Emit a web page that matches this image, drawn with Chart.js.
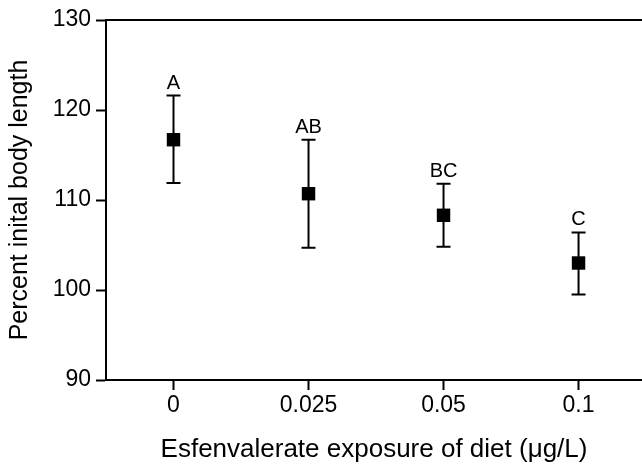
<!DOCTYPE html>
<html>
<head>
<meta charset="utf-8">
<script src="https://cdn.jsdelivr.net/npm/chart.js@4/dist/chart.umd.min.js"></script>
<style>
  html, body { margin: 0; padding: 0; background: #fff; overflow: hidden; }
  #wrap { width: 642px; height: 466px; position: relative; }
</style>
</head>
<body>
<div id="wrap"><canvas id="c" width="642" height="466"></canvas></div>
<script>
// ---- data ----
const categories = ['0', '0.025', '0.05', '0.1'];
const meanValues = [116.7, 110.7, 108.3, 103.0];
const upperValues = [121.6, 116.7, 111.8, 106.4];
const lowerValues = [111.9, 104.7, 104.8, 99.5];
const groupLetters = ['A', 'AB', 'BC', 'C'];
const yTicks = [90, 100, 110, 120, 130];
const xTitle = 'Esfenvalerate exposure of diet (\u03BCg/L)';
const yTitle = 'Percent inital body length';

const FONT = '"Liberation Sans", Arial, Helvetica, sans-serif';

const errorBars = {
  id: 'errorBars',
  beforeDatasetsDraw(chart) {
    const { ctx, scales: { x, y } } = chart;
    ctx.save();
    ctx.strokeStyle = '#000';
    ctx.lineWidth = 2;
    const cap = 7;
    meanValues.forEach((m, i) => {
      const px = x.getPixelForValue(i);
      const yHi = y.getPixelForValue(upperValues[i]);
      const yLo = y.getPixelForValue(lowerValues[i]);
      ctx.beginPath();
      ctx.moveTo(px, yHi); ctx.lineTo(px, yLo);
      ctx.moveTo(px - cap, yHi); ctx.lineTo(px + cap, yHi);
      ctx.moveTo(px - cap, yLo); ctx.lineTo(px + cap, yLo);
      ctx.stroke();
    });
    ctx.restore();
  },
  afterDatasetsDraw(chart) {
    const { ctx, scales: { x, y } } = chart;
    ctx.save();
    ctx.fillStyle = '#000';
    ctx.font = '20px ' + FONT;
    ctx.textAlign = 'center';
    ctx.textBaseline = 'alphabetic';
    groupLetters.forEach((t, i) => {
      const px = x.getPixelForValue(i);
      const yHi = y.getPixelForValue(upperValues[i]);
      ctx.fillText(t, px, yHi - 7);
    });
    ctx.restore();
  }
};

new Chart(document.getElementById('c'), {
  type: 'scatter',
  data: {
    datasets: [{
      data: meanValues.map((v, i) => ({ x: i, y: v })),
      pointStyle: 'rect',
      pointRadius: 9.5,
      pointHoverRadius: 9.5,
      backgroundColor: '#000',
      borderColor: '#000',
      borderWidth: 0
    }]
  },
  options: {
    responsive: false,
    animation: false,
    events: [],
    layout: { autoPadding: false, padding: { left: 0, right: 0, top: 20, bottom: 0 } },
    plugins: { legend: { display: false }, tooltip: { enabled: false } },
    scales: {
      x: {
        type: 'linear',
        position: 'bottom',
        min: -0.5,
        max: 3.47,
        afterBuildTicks(s) { s.ticks = categories.map((c, i) => ({ value: i })); },
        afterFit(s) { s.height = 86; },
        ticks: {
          callback: (v) => categories[v],
          color: '#000',
          font: { family: FONT, size: 23 },
          padding: 2,
          maxRotation: 0,
          autoSkip: false
        },
        grid: { drawOnChartArea: false, drawTicks: true, tickLength: 10, tickWidth: 2, tickColor: '#000' },
        border: { display: true, color: '#000', width: 2 },
        title: {
          display: true,
          text: xTitle,
          color: '#000',
          font: { family: FONT, size: 26 },
          padding: { top: 0, bottom: 1 }
        }
      },
      xTop: {
        type: 'linear',
        position: 'top',
        min: 0, max: 1,
        afterFit(s) { s.height = 0; },
        ticks: { display: false },
        grid: { drawOnChartArea: false, drawTicks: false },
        border: { display: true, color: '#000', width: 2 }
      },
      y: {
        min: 90,
        max: 130,
        afterBuildTicks(s) { s.ticks = yTicks.map(v => ({ value: v })); },
        afterFit(s) { s.width = 106; },
        ticks: {
          color: '#000',
          font: { family: FONT, size: 23 },
          padding: 5
        },
        grid: { drawOnChartArea: false, drawTicks: true, tickLength: 10, tickWidth: 2, tickColor: '#000' },
        border: { display: true, color: '#000', width: 2 },
        title: {
          display: true,
          text: yTitle,
          color: '#000',
          font: { family: FONT, size: 25 },
          padding: { top: 5, bottom: 0 }
        }
      }
    }
  },
  plugins: [errorBars]
});
</script>
</body>
</html>
